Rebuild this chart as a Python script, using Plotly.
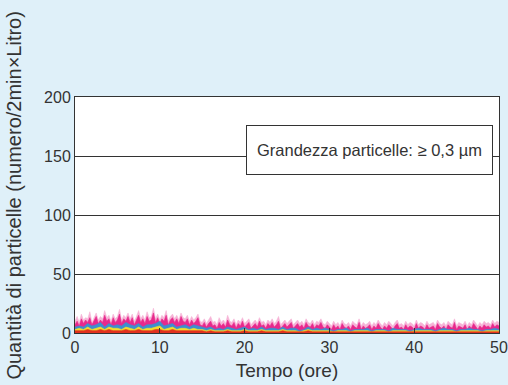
import plotly.graph_objects as go

# fine-resolution series (every 0.25 h)
magenta = [7, 10, 6, 12, 8, 11, 9, 13, 7, 10, 14, 8, 11, 9, 15, 10, 12, 7, 13, 9,
           11, 16, 8, 12, 10, 14, 9, 13, 7, 11, 15, 9, 12, 8, 14, 10, 11, 17, 9, 13,
           8, 12, 10, 15, 7, 11, 13, 9, 12, 8, 14, 10, 9, 12, 7, 11, 8, 10, 13, 7,
           6, 9, 5, 8, 10, 6, 7, 4, 9, 6, 8, 5, 11, 7, 6, 9, 4, 8, 6, 10,
           5, 7, 9, 4, 6, 8, 5, 10, 6, 7, 4, 8, 6, 9, 5, 7, 10, 4, 6, 8,
           5, 7, 9, 4, 6, 8, 5, 7, 4, 9, 6, 5, 8, 4, 7, 6, 9, 5, 4, 7,
           5, 3, 7, 4, 6, 3, 8, 5, 4, 6, 3, 7, 5, 4, 9, 3, 6, 4, 5, 7,
           3, 6, 4, 8, 5, 3, 6, 4, 7, 5, 3, 6, 8, 4, 5, 3, 7, 4, 6, 5,
           3, 8, 4, 6, 5, 3, 7, 4, 5, 6, 3, 8, 5, 4, 6, 3, 7, 5, 4, 9,
           3, 6, 5, 4, 7, 3, 6, 4, 8, 5, 3, 6, 4, 7, 5, 6, 4, 8, 5, 7, 6]
light_pink = [10, 14, 9, 16, 11, 13, 12, 18, 9, 13, 17, 11, 14, 12, 19, 13, 15, 10, 16, 12,
              14, 20, 11, 15, 13, 17, 12, 16, 10, 14, 19, 12, 15, 11, 18, 13, 14, 21, 12, 16,
              11, 15, 13, 19, 10, 14, 16, 12, 15, 11, 17, 13, 12, 15, 10, 14, 11, 13, 16, 10,
              9, 12, 8, 11, 14, 9, 10, 7, 13, 9, 11, 8, 15, 10, 9, 12, 7, 11, 9, 13,
              8, 10, 12, 7, 9, 11, 8, 13, 9, 10, 7, 11, 9, 12, 8, 10, 14, 7, 9, 11,
              8, 10, 12, 7, 9, 11, 8, 10, 7, 12, 9, 8, 11, 7, 10, 9, 12, 8, 7, 10,
              8, 6, 10, 7, 9, 6, 11, 8, 7, 9, 6, 10, 8, 7, 12, 6, 9, 7, 8, 10,
              6, 9, 7, 11, 8, 6, 9, 7, 10, 8, 6, 9, 11, 7, 8, 6, 10, 7, 9, 8,
              6, 11, 7, 9, 8, 6, 10, 7, 8, 9, 6, 11, 8, 7, 9, 6, 10, 8, 7, 12,
              6, 9, 8, 7, 10, 6, 9, 7, 11, 8, 6, 9, 7, 10, 8, 9, 7, 11, 8, 10, 9]

# coarse-resolution series (every 0.5 h)
blue = [5, 6, 5, 8, 6, 7, 9, 5, 8, 6, 7, 6, 9, 7, 6, 8, 5, 7, 7, 8, 10, 6, 7, 8, 5, 6, 7, 5, 7, 6, 5,
        4, 5, 3, 4, 3, 5, 4, 3, 4, 5, 3, 4, 3, 5, 3, 4, 4, 3, 5, 3, 4, 4, 2, 3, 5, 3, 4, 3, 4, 3,
        2, 3, 3, 4, 2, 3, 3, 3, 4, 2, 3, 3, 3, 2, 4, 3, 3, 3, 2, 3, 4, 3, 3, 3, 2, 3, 4, 3, 3, 2, 3, 3, 4, 3, 3, 2, 3, 3, 4, 3]
yellow = [3, 4, 3, 5, 3, 4, 5, 3, 5, 4, 4, 3, 5, 4, 3, 5, 3, 4, 4, 5, 6, 3, 4, 5, 3, 4, 4, 3, 4, 3, 3,
          2, 3, 2, 2, 2, 3, 2, 2, 2, 3, 2, 2, 2, 3, 2, 2, 2, 2, 3, 2, 2, 2, 1, 2, 3, 2, 2, 2, 2, 2,
          1, 2, 2, 2, 1, 2, 2, 2, 2, 1, 2, 2, 2, 1, 2, 2, 2, 2, 1, 2, 2, 2, 2, 2, 1, 2, 2, 2, 2, 1, 2, 2, 2, 2, 2, 1, 2, 2, 2, 2]
red = [2, 2, 2, 3, 2, 2, 3, 2, 3, 2, 2, 2, 3, 2, 2, 3, 2, 2, 2, 3, 3, 2, 2, 3, 2, 2, 2, 2, 2, 2, 2,
       1, 2, 1, 1, 1, 2, 1, 1, 1, 2, 1, 1, 1, 2, 1, 1, 1, 1, 2, 1, 1, 1, 1, 1, 2, 1, 1, 1, 1, 1,
       1, 1, 1, 1, 1, 1, 1, 1, 1, 1, 1, 1, 1, 1, 1, 1, 1, 1, 1, 1, 1, 1, 1, 1, 1, 1, 1, 1, 1, 1, 1, 1, 1, 1, 1, 1, 1, 1, 1, 1]

hours_fine = [i * 0.25 for i in range(len(magenta))]
hours_coarse = [i * 0.5 for i in range(len(blue))]

series = [
    (hours_fine, light_pink, "#f6b3d6"),
    (hours_fine, magenta, "#e8288c"),
    (hours_coarse, blue, "#3d8fcf"),
    (hours_coarse, yellow, "#f3de2c"),
    (hours_coarse, red, "#e2321f"),
]

fig = go.Figure()
for xs, vals, col in series:
    fig.add_trace(go.Scatter(x=xs, y=vals, mode="lines", fill="tozeroy",
                             line=dict(color=col, width=0.6), fillcolor=col,
                             showlegend=False, hoverinfo="skip"))

font = "Liberation Sans, Arial, sans-serif"
fig.update_layout(
    width=508, height=385,
    margin=dict(l=75, r=9, t=97, b=52),
    paper_bgcolor="#dff0f9", plot_bgcolor="#ffffff",
    font=dict(family=font, size=16, color="#333333"),
    xaxis=dict(range=[0, 50], tickvals=[0, 10, 20, 30, 40, 50], ticks="inside", ticklen=5,
               tickcolor="#333333", showgrid=False, showline=True, linecolor="#333333", linewidth=1,
               mirror=True, zeroline=False, automargin=False,
               title=dict(text="Tempo (ore)", font=dict(size=19, color="#333333"), standoff=8),
               tickfont=dict(size=16)),
    yaxis=dict(range=[0, 200], tickvals=[0, 50, 100, 150, 200], ticks="", showgrid=True,
               gridcolor="#333333", gridwidth=1, showline=True, linecolor="#333333", linewidth=1,
               mirror=True, zeroline=False, automargin=False,
               tickfont=dict(size=16)),
    annotations=[
        dict(x=0.986, y=0.881, xref="paper", yref="paper", xanchor="right", yanchor="top",
             text="Grandezza particelle: ≥ 0,3 µm", showarrow=False,
             font=dict(size=16.5, color="#333333"), bgcolor="#ffffff",
             bordercolor="#333333", borderwidth=1, borderpad=10, height=28),
        dict(x=-0.146, y=0.5826, xref="paper", yref="paper", xanchor="center", yanchor="middle",
             text="Quantità di particelle (numero/2min×Litro)", textangle=-90, showarrow=False,
             font=dict(size=20, color="#333333")),
    ],
)

fig.write_html("out.html", config={"displayModeBar": False},
               post_script="document.body.style.margin='0';document.body.style.overflow='hidden';")
